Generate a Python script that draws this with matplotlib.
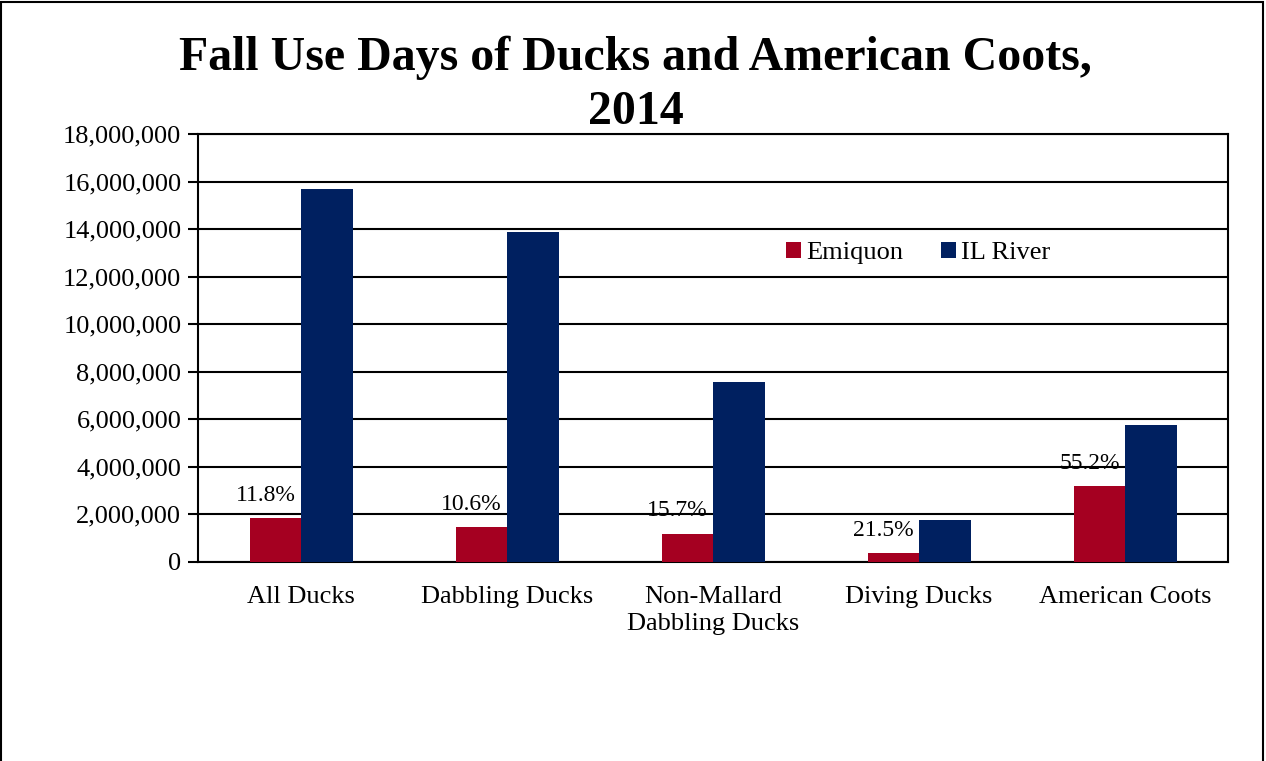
import numpy as np
import matplotlib
matplotlib.use("Agg")
import matplotlib.pyplot as plt
from matplotlib.patches import Rectangle
from matplotlib.ticker import FuncFormatter

# Data (use days)
categories = ["All Ducks", "Dabbling Ducks", "Non-Mallard\nDabbling Ducks",
              "Diving Ducks", "American Coots"]
emiquon = [1840000, 1460000, 1180000, 370000, 3180000]
il_river = [15700000, 13870000, 7570000, 1770000, 5770000]
pct_labels = ["11.8%", "10.6%", "15.7%", "21.5%", "55.2%"]

RED = "#A50021"
NAVY = "#002060"

plt.rcParams["font.family"] = ["Liberation Serif", "DejaVu Serif"]

W, H = 1266, 761
fig = plt.figure(figsize=(W / 100, H / 100), dpi=100)
ax = fig.add_axes([198 / W, 1 - 562 / H, 1030 / W, 428 / H])

x = np.arange(len(categories))
w = 0.25
ax.bar(x - w / 2, emiquon, w, color=RED, label="Emiquon", zorder=3)
ax.bar(x + w / 2, il_river, w, color=NAVY, label="IL River", zorder=3)

for xi, v, lab in zip(x, emiquon, pct_labels):
    ax.annotate(lab, (xi - w / 2, v), xytext=(-7, 9), textcoords="offset points",
                ha="center", va="bottom", fontsize=17, zorder=4)

ax.set_xlim(-0.5, len(categories) - 0.5)
ax.set_ylim(0, 18000000)
ax.set_yticks(np.arange(0, 18000001, 2000000))
ax.yaxis.set_major_formatter(FuncFormatter(lambda v, p: f"{int(v):,}"))
ax.grid(axis="y", color="black", linewidth=1.5, zorder=0)
ax.set_xticks(x)
ax.set_xticklabels(categories, fontsize=19, linespacing=1.3)
ax.tick_params(axis="x", length=0, pad=17)
ax.tick_params(axis="y", labelsize=19, length=7, width=1.5, direction="out", pad=5)
for s in ax.spines.values():
    s.set_linewidth(1.5)
    s.set_color("black")

ax.legend(loc="center left", bbox_to_anchor=(0.571, 0.722), ncol=2, frameon=False,
          fontsize=19, handlelength=0.58, handleheight=0.58, handletextpad=0.2,
          columnspacing=1.4, borderpad=0, borderaxespad=0)

fig.text(0.502, 1 - 70 / H, "Fall Use Days of Ducks and American Coots,",
         ha="center", va="baseline", fontsize=34.5, fontweight="bold")
fig.text(0.502, 1 - 124 / H, "2014",
         ha="center", va="baseline", fontsize=34.5, fontweight="bold")

fig.patches.append(Rectangle((1 / W, -0.1), 1262 / W, 1.1 - 2 / H,
                             transform=fig.transFigure, fill=False,
                             edgecolor="black", linewidth=1.5))

fig.savefig("out.png", dpi=100)
